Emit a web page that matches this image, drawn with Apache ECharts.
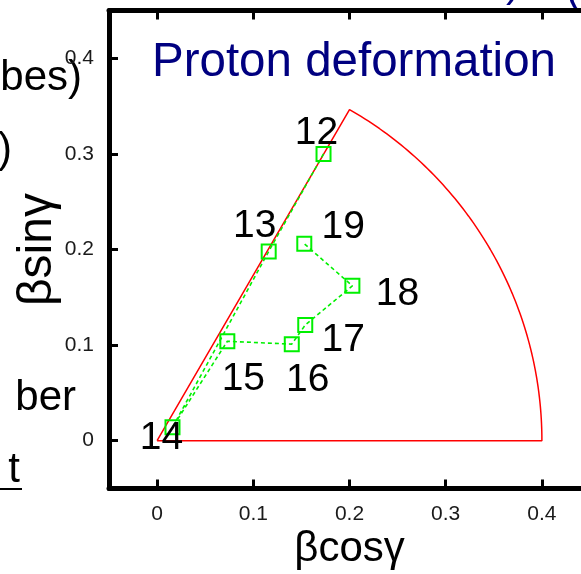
<!DOCTYPE html>
<html>
<head>
<meta charset="utf-8">
<style>
html,body{margin:0;padding:0;background:#fff;}
#chart{width:581px;height:574px;}
</style>
<script src="https://cdn.jsdelivr.net/npm/echarts@6/dist/echarts.min.js"></script>
</head>
<body>
<div id="chart"></div>
<script>
// ---- data ----
const pointLabels = ['12', '13', '14', '15', '16', '17', '18', '19'];
const betaCos = [0.173, 0.116, 0.016, 0.073, 0.140, 0.154, 0.203, 0.153];
const betaSin = [0.300, 0.198, 0.014, 0.104, 0.101, 0.121, 0.162, 0.206];
const xTicks = [0, 0.1, 0.2, 0.3, 0.4];
const yTicks = [0, 0.1, 0.2, 0.3, 0.4];
const betaMax = 0.4;     // sector radius
const gammaMax = 60;     // sector opening angle (deg)

// ---- build ----
const sector = [[0, 0]];
for (let i = 0; i <= 90; i++) {
  const g = (gammaMax - gammaMax * i / 90) * Math.PI / 180;
  sector.push([betaMax * Math.cos(g), betaMax * Math.sin(g)]);
}
sector.push([0, 0]);

const labelOffsets = [[-7, -21], [-14, -25], [-11, 11], [16, 38], [16, 36], [38, 15], [45, 8], [39, -17]];
const pts = pointLabels.map((n, i) => ({
  value: [betaCos[i], betaSin[i]],
  name: n,
  label: { offset: labelOffsets[i] }
}));

const FF = '"Liberation Sans", Arial, Helvetica, sans-serif';
const chart = echarts.init(document.getElementById('chart'), null, { renderer: 'canvas' });

const frameLine = { show: true, onZero: false, lineStyle: { color: '#000', width: 5 } };
const tick = vals => ({ show: true, inside: true, length: 9, customValues: vals, lineStyle: { color: '#000', width: 3 } });

chart.setOption({
  animation: false,
  backgroundColor: '#fff',
  grid: {
    left: 109, top: 10.5, width: 481, height: 478,
    outerBoundsMode: 'none', containLabel: false,
    show: false
  },
  title: {
    text: 'Proton deformation', left: 147, top: 34,
    textStyle: { color: '#000080', fontSize: 47.5, fontWeight: 'normal', fontFamily: FF }
  },
  xAxis: [{
    type: 'value', min: -0.05, max: 0.45, position: 'bottom',
    name: 'βcosγ', nameLocation: 'middle', nameGap: 40, nameMoveOverlap: false,
    nameTextStyle: { fontSize: 42, color: '#000', fontFamily: FF },
    axisLine: frameLine,
    axisTick: tick(xTicks),
    axisLabel: { customValues: xTicks, margin: 15, fontSize: 21, color: '#1a1a1a', fontFamily: FF,
      formatter: v => String(+v.toFixed(2)) },
    splitLine: { show: false }
  }, {
    type: 'value', min: -0.05, max: 0.45, position: 'top',
    axisLine: frameLine,
    axisTick: tick(xTicks),
    axisLabel: { show: false },
    splitLine: { show: false }
  }],
  yAxis: [{
    type: 'value', min: -0.05, max: 0.45, position: 'left',
    name: 'βsinγ', nameLocation: 'middle', nameGap: 47, nameMoveOverlap: false,
    nameTextStyle: { fontSize: 48, color: '#000', fontFamily: FF },
    axisLine: frameLine,
    axisTick: tick(yTicks),
    axisLabel: { customValues: yTicks, margin: 15, fontSize: 21, color: '#1a1a1a', fontFamily: FF,
      formatter: v => String(+v.toFixed(2)) },
    splitLine: { show: false }
  }, {
    type: 'value', min: -0.05, max: 0.45, position: 'right',
    axisLine: frameLine,
    axisTick: tick(yTicks),
    axisLabel: { show: false },
    splitLine: { show: false }
  }],
  graphic: [
    { type: 'text', style: { text: 'bes)', x: 82, y: 78, align: 'right', verticalAlign: 'middle', fontSize: 42, fontFamily: FF, fill: '#000' } },
    { type: 'text', style: { text: ')', x: 12, y: 150, align: 'right', verticalAlign: 'middle', fontSize: 42, fontFamily: FF, fill: '#000' } },
    { type: 'text', style: { text: 'ber', x: 76, y: 398, align: 'right', verticalAlign: 'middle', fontSize: 42, fontFamily: FF, fill: '#000' } },
    { type: 'text', style: { text: 't', x: 20, y: 470, align: 'right', verticalAlign: 'middle', fontSize: 42, fontFamily: FF, fill: '#000' } },
    { type: 'line', shape: { x1: 0, y1: 489, x2: 22, y2: 489 }, style: { stroke: '#000', lineWidth: 2 } },
    { type: 'text', style: { text: ')', x: 520, y: -16, align: 'right', verticalAlign: 'middle', fontSize: 42, fontFamily: FF, fill: '#000080' } },
    { type: 'text', style: { text: '(', x: 566, y: -10, align: 'left', verticalAlign: 'middle', fontSize: 42, fontFamily: FF, fill: '#000080' } }
  ],
  series: [{
    type: 'line', data: sector, symbol: 'none', silent: true, z: 2,
    lineStyle: { color: '#ff0000', width: 1.5 }
  }, {
    type: 'line', data: pts, z: 3,
    symbol: 'rect', symbolSize: 14,
    itemStyle: { color: 'rgba(0,0,0,0)', borderColor: '#00f000', borderWidth: 2 },
    lineStyle: { color: '#00f000', width: 1.6, type: [4, 3] },
    label: {
      show: true, position: 'inside', formatter: p => p.name,
      fontSize: 39, color: '#000', fontFamily: FF, align: 'center', verticalAlign: 'middle'
    }
  }]
});
</script>
</body>
</html>
